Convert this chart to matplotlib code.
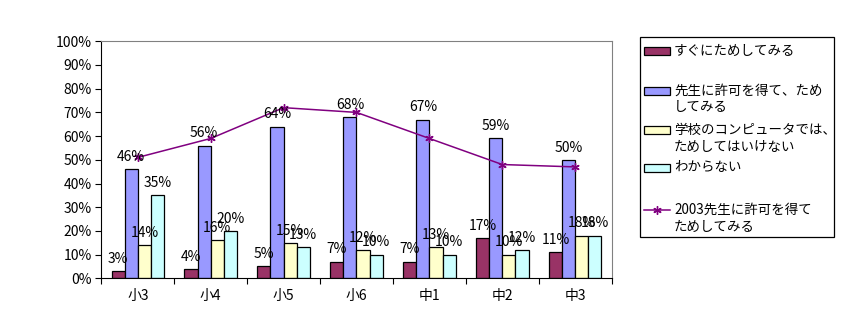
import matplotlib
matplotlib.use("Agg")
import matplotlib.pyplot as plt
from matplotlib.patches import Rectangle
from matplotlib.lines import Line2D
import numpy as np

plt.rcParams['font.family'] = ['Noto Sans CJK JP', 'DejaVu Sans']

grades = ["小3", "小4", "小5", "小6", "中1", "中2", "中3"]
try_now = [3, 4, 5, 7, 7, 17, 11]
ask_teacher = [46, 56, 64, 68, 67, 59, 50]
not_allowed = [14, 16, 15, 12, 13, 10, 18]
dont_know = [35, 20, 13, 10, 10, 12, 18]
ask_teacher_2003 = [51, 59, 72, 70, 59, 48, 47]

series_labels = [
    "すぐにためしてみる",
    "先生に許可を得て、ため\nしてみる",
    "学校のコンピュータでは、\nためしてはいけない",
    "わからない",
]
line_label = "2003先生に許可を得て\nためしてみる"
colors = ["#993366", "#9999FF", "#FFFFCC", "#CCFFFF"]
line_color = "#800080"

W, H = 857, 334
fig = plt.figure(figsize=(W / 100, H / 100), dpi=100)
ax = fig.add_axes([101.3 / W, 1 - 278.3 / H, 510.4 / W, 237 / H])

x = np.arange(len(grades))
width = 0.18
offsets = np.array([-1.5, -0.5, 0.5, 1.5]) * width
series = [try_now, ask_teacher, not_allowed, dont_know]
for vals, off, col in zip(series, offsets, colors):
    ax.bar(x + off, vals, width, color=col, edgecolor="black",
           linewidth=0.9, zorder=2)
    for xi, v in zip(x + off, vals):
        ax.text(xi, v + 2.2, f"{v}%", ha="center", va="bottom",
                fontsize=10, zorder=4)

marker_style = dict(marker=(6, 2, 0), markersize=6, markeredgewidth=1.0)
ax.plot(x, ask_teacher_2003, color=line_color, linewidth=1.1,
        zorder=3, **marker_style)

ax.set_xlim(-0.5, len(grades) - 0.5)
ax.set_ylim(0, 100)
ax.set_yticks(np.arange(0, 101, 10))
ax.set_yticklabels([f"{v}%" for v in range(0, 101, 10)], fontsize=10)
ax.set_xticks(x)
ax.set_xticklabels(grades, fontsize=10)
ax.tick_params(axis="x", length=0, pad=8)
ax.set_xticks(np.arange(-0.5, len(grades), 1), minor=True)
ax.tick_params(axis="x", which="minor", length=4, direction="out", width=0.8)
ax.tick_params(axis="y", length=4, direction="out", width=0.8, pad=3)

for s in ["top", "right"]:
    ax.spines[s].set_color("#808080")
for s in ["left", "bottom"]:
    ax.spines[s].set_color("black")


# legend box drawn in pixel units of the figure
def fx(px):
    return px / W


def fy(py):
    return 1 - py / H


fig.patches.append(Rectangle((fx(640), fy(237)), fx(834) - fx(640),
                             fy(37) - fy(237), transform=fig.transFigure,
                             facecolor="white", edgecolor="black",
                             linewidth=0.9))
row_y = [50.7, 90.7, 130.0, 167.5, 210.0]
line_gap = 16.6
labels = series_labels + [line_label]
for i, (ry, lab) in enumerate(zip(row_y, labels)):
    if i < 4:
        fig.patches.append(Rectangle((fx(644), fy(ry + 4)), fx(670) - fx(644),
                                     fy(ry - 4) - fy(ry + 4),
                                     transform=fig.transFigure,
                                     facecolor=colors[i], edgecolor="black",
                                     linewidth=0.9))
    else:
        fig.lines.append(Line2D([fx(644), fx(670)], [fy(ry), fy(ry)],
                                transform=fig.transFigure, color=line_color,
                                linewidth=1.1))
        fig.lines.append(Line2D([fx(657)], [fy(ry)], transform=fig.transFigure,
                                color=line_color, linestyle="none",
                                **marker_style))
    nlines = lab.count("\n") + 1
    cy = ry + (nlines - 1) * line_gap / 2
    fig.text(fx(674), fy(cy), lab, ha="left", va="center", fontsize=9.7,
             linespacing=1.25)

fig.savefig("out.png", dpi=100)
